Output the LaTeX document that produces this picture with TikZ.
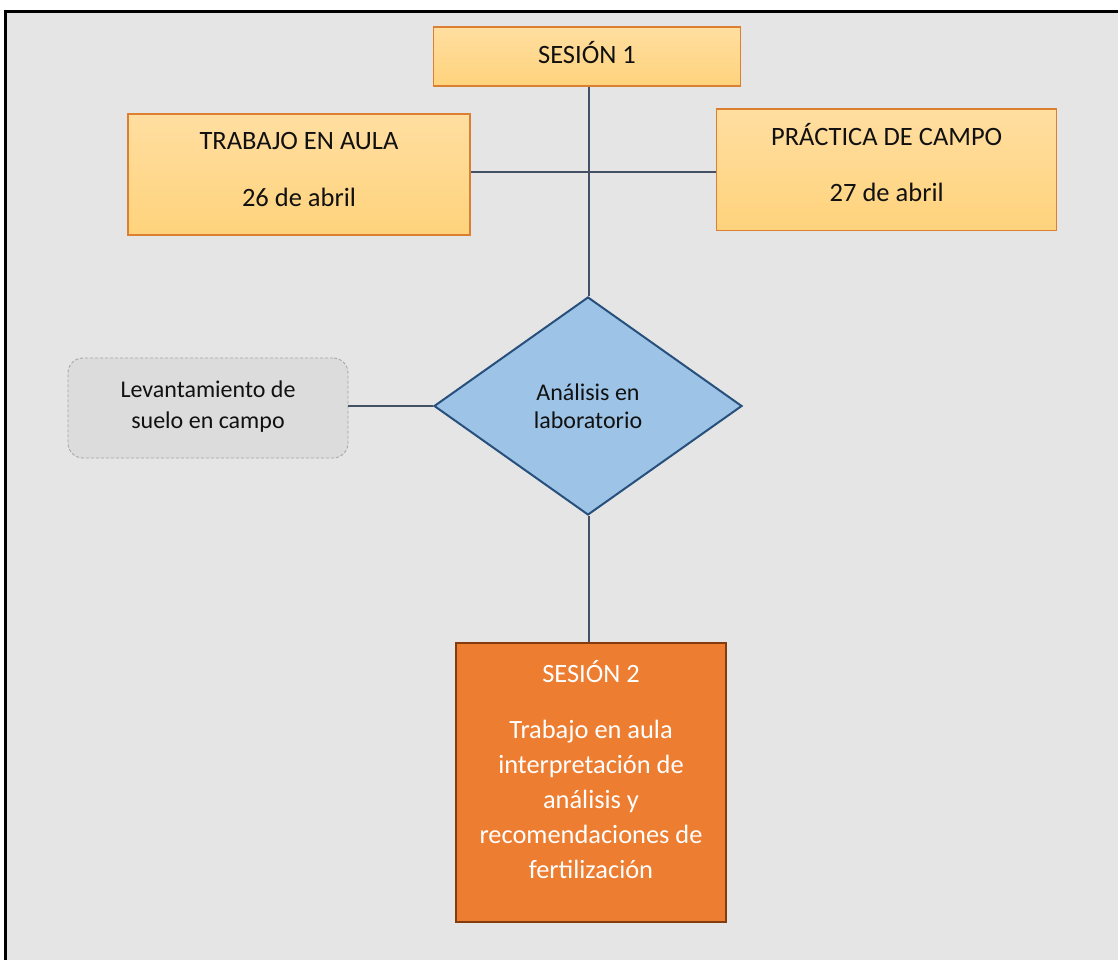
\documentclass[tikz,border=0pt]{standalone}
\usepackage{fontspec}
\setmainfont{Carlito}
\usetikzlibrary{shapes.geometric}
\definecolor{bgfill}{RGB}{229,229,229}
\definecolor{orangetop}{RGB}{255,222,160}
\definecolor{orangebot}{RGB}{255,211,124}
\definecolor{orangeline}{RGB}{218,128,48}
\definecolor{linkcol}{RGB}{68,80,102}
\definecolor{diafill}{RGB}{157,195,230}
\definecolor{dialine}{RGB}{40,80,125}
\definecolor{greyfill}{RGB}{220,220,220}
\definecolor{greyline}{RGB}{165,165,165}
\definecolor{s2fill}{RGB}{237,125,49}
\definecolor{s2line}{RGB}{132,60,12}
\definecolor{txtcol}{RGB}{17,17,17}
\begin{document}
\begin{tikzpicture}[x=1pt,y=-1pt,
  orangebox/.style={draw=orangeline, line width=1.4pt, top color=orangetop, bottom color=orangebot, inner sep=0pt},
  diabox/.style={diamond, draw=dialine, line width=2pt, fill=diafill, inner sep=0pt},
  greybox/.style={draw=greyline, line width=0.9pt, dash pattern=on 3pt off 2pt, fill=greyfill, rounded corners=15pt, inner sep=0pt},
  s2box/.style={draw=s2line, line width=2.6pt, fill=s2fill, inner sep=0pt},
  link/.style={draw=linkcol, line width=1.8pt},
  bigtxt/.style={anchor=base, inner sep=0pt, text=txtcol, font=\fontsize{26.5pt}{32pt}\selectfont},
  midtxt/.style={anchor=base, inner sep=0pt, text=txtcol, font=\fontsize{24pt}{29pt}\selectfont},
  whitetxt/.style={anchor=base, inner sep=0pt, text=white, font=\fontsize{26.4pt}{32pt}\selectfont}
]
\useasboundingbox (0,0) rectangle (1118,960);
\clip (0,0) rectangle (1118,960);
\fill[white] (0,0) rectangle (1118,960);
\draw[line width=2.5pt, fill=bgfill] (5.5,11.5) rectangle (1140,990);

% boxes
\node[orangebox, minimum width=307pt, minimum height=59pt] (s1) at (587,56.5) {};
\node[orangebox, minimum width=342pt, minimum height=121pt] (ta) at (299,174.5) {};
\node[orangebox, minimum width=340pt, minimum height=121pt] (pc) at (886.5,169.7) {};
\node[diabox, minimum width=308pt, minimum height=218pt] (d) at (588,406) {};
\node[greybox, minimum width=280pt, minimum height=100pt] (lv) at (208,408) {};
\node[s2box, minimum width=270pt, minimum height=279pt] (s2) at (591,782.5) {};

% connectors
\coordinate (j1) at (589,172.3);
\draw[link] (s1.south -| j1) -- (d.north -| j1);
\draw[link] (ta.east |- j1) -- (pc.west |- j1);
\draw[link] (lv.east |- d.west) -- (d.west);
\draw[link] (d.south -| j1) -- (s2.north -| j1);

% texts
\node[bigtxt] (s1t) at (587,63.5) {SESIÓN 1};
\node[bigtxt] (ta1) at (299,150) {TRABAJO EN AULA};
\node[bigtxt] (ta2) at (299,206) {26 de abril};
\node[bigtxt] (pc1) at (886.7,145.7) {PRÁCTICA DE CAMPO};
\node[bigtxt] (pc2) at (886.7,201.7) {27 de abril};
\node[midtxt] (lv1) at (208,397) {Levantamiento de};
\node[midtxt] (lv2) at (208,428) {suelo en campo};
\node[midtxt] (d1) at (588,400) {Análisis en};
\node[midtxt] (d2) at (588,428) {laboratorio};
\node[whitetxt] (s2a) at (591,682) {SESIÓN 2};
\node[whitetxt] (s2b) at (591,738) {Trabajo en aula};
\node[whitetxt] (s2c) at (591,773) {interpretación de};
\node[whitetxt] (s2d) at (591,808) {análisis y};
\node[whitetxt] (s2e) at (591,843) {recomendaciones de};
\node[whitetxt] (s2f) at (591,878) {fertilización};
\end{tikzpicture}
\end{document}
